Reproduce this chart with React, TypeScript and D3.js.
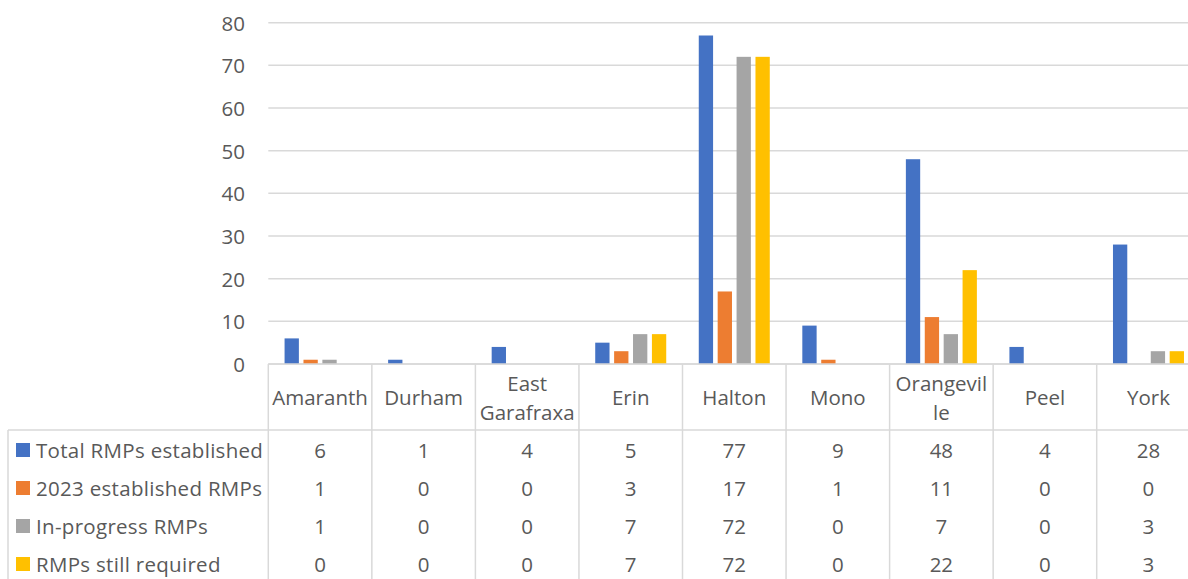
import React from "react";
import * as d3 from "d3";

const categories = ["Amaranth", "Durham", "East Garafraxa", "Erin", "Halton", "Mono", "Orangeville", "Peel", "York"];
const categoryLines = [["Amaranth"], ["Durham"], ["East", "Garafraxa"], ["Erin"], ["Halton"], ["Mono"], ["Orangevil", "le"], ["Peel"], ["York"]];
const seriesNames = ["Total RMPs established", "2023 established RMPs", "In-progress RMPs", "RMPs still required"];
const totalEstablished = [6, 1, 4, 5, 77, 9, 48, 4, 28];
const established2023 = [1, 0, 0, 3, 17, 1, 11, 0, 0];
const inProgress = [1, 0, 0, 7, 72, 0, 7, 0, 3];
const stillRequired = [0, 0, 0, 7, 72, 0, 22, 0, 3];
const yTicks = [0, 10, 20, 30, 40, 50, 60, 70, 80];
const colors = ["#4472C4", "#ED7D31", "#A5A5A5", "#FFC000"];

const seriesValues = [totalEstablished, established2023, inProgress, stillRequired];

const W = 1188;
const H = 579;
const plotLeft = 268.3;
const colW = 103.55;
const yZero = 364;
const yTop = 22.7;
const headerBottom = 430;
const rowH = 38;
const legendLeft = 8;
const font = "'Open Sans', sans-serif";
const textColor = "#595959";
const gridColor = "#d9d9d9";
const fs = 20.5;

export default function App() {
  const x0 = d3.scaleBand<string>().domain(categories).range([plotLeft, plotLeft + colW * categories.length]).padding(0);
  const x1 = d3
    .scaleBand<string>()
    .domain(seriesNames)
    .range([colW / 2 - 37.8, colW / 2 + 37.8])
    .paddingInner(0.243)
    .paddingOuter(0.1215);
  const y = d3.scaleLinear().domain([0, 80]).range([yZero, yTop]);

  return (
    <svg width={W} height={H} style={{ position: "absolute", left: 0, top: 0, background: "#fff" }} fontFamily={font}>
      {yTicks.map((t) => (
        <line key={"g" + t} x1={plotLeft} x2={W} y1={y(t)} y2={y(t)} stroke={gridColor} strokeWidth={1.5} />
      ))}
      {yTicks.map((t) => (
        <text key={"yt" + t} x={245} y={y(t)} textAnchor="end" dominantBaseline="central" fontSize={fs} fill={textColor}>
          {t}
        </text>
      ))}
      {categories.map((c, ci) => (
        <g key={c} transform={`translate(${x0(c)},0)`}>
          {seriesNames.map((s, si) => {
            const v = seriesValues[si][ci];
            if (!v) return null;
            return (
              <rect key={s} x={x1(s)} width={x1.bandwidth()} y={y(v)} height={yZero - y(v)} fill={colors[si]} />
            );
          })}
        </g>
      ))}
      <line x1={plotLeft} x2={W} y1={yZero} y2={yZero} stroke={gridColor} strokeWidth={1.5} />
      <line x1={legendLeft} x2={W} y1={headerBottom} y2={headerBottom} stroke={gridColor} strokeWidth={1.5} />
      <line x1={legendLeft} x2={legendLeft} y1={headerBottom} y2={H} stroke={gridColor} strokeWidth={1.5} />
      {d3.range(categories.length + 1).map((i) => (
        <line
          key={"v" + i}
          x1={plotLeft + i * colW}
          x2={plotLeft + i * colW}
          y1={yZero}
          y2={H}
          stroke={gridColor}
          strokeWidth={1.5}
        />
      ))}
      {categories.map((c, ci) => {
        const lines = categoryLines[ci];
        const cx = (x0(c) as number) + colW / 2;
        const mid = (yZero + headerBottom) / 2;
        const lh = 29;
        return (
          <text key={"h" + c} textAnchor="middle" fontSize={fs} fill={textColor}>
            {lines.map((l, li) => (
              <tspan key={li} x={cx} y={mid + (li - (lines.length - 1) / 2) * lh} dominantBaseline="central">
                {l}
              </tspan>
            ))}
          </text>
        );
      })}
      {seriesNames.map((s, si) => {
        const cy = headerBottom + rowH * si + 20;
        return (
          <g key={"r" + s}>
            <rect x={16} y={cy - 7} width={14} height={14} fill={colors[si]} />
            <text x={36} y={cy} dominantBaseline="central" fontSize={fs} fill={textColor} letterSpacing={0.3}>
              {s}
            </text>
            {categories.map((c, ci) => (
              <text
                key={c}
                x={(x0(c) as number) + colW / 2}
                y={cy}
                textAnchor="middle"
                dominantBaseline="central"
                fontSize={fs}
                fill={textColor}
              >
                {seriesValues[si][ci]}
              </text>
            ))}
          </g>
        );
      })}
    </svg>
  );
}
